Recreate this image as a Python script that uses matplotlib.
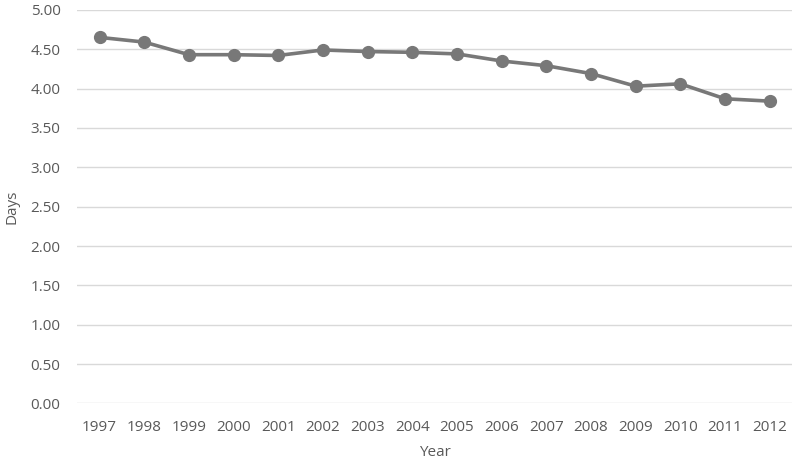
import matplotlib
matplotlib.use('Agg')
import matplotlib.pyplot as plt

years = ['1997', '1998', '1999', '2000', '2001', '2002', '2003', '2004',
         '2005', '2006', '2007', '2008', '2009', '2010', '2011', '2012']
days = [4.65, 4.59, 4.43, 4.43, 4.42, 4.49, 4.47, 4.46,
        4.44, 4.35, 4.29, 4.19, 4.03, 4.06, 3.87, 3.84]
yticks = [0, 0.5, 1, 1.5, 2, 2.5, 3, 3.5, 4, 4.5, 5]

plt.rcParams['font.family'] = ['Open Sans', 'DejaVu Sans']
text_col = '#595959'

fig = plt.figure(figsize=(7.96, 4.67), dpi=100)
ax = fig.add_axes([0.097, 0.136, 0.898, 0.843])

x = list(range(len(years)))
ax.plot(x, days, color='#787878', linewidth=2.6, marker='o', markersize=8.5, zorder=3)

ax.set_xlim(-0.5, len(years) - 0.5)
ax.set_ylim(0, 5)
ax.set_yticks(yticks)
ax.set_yticklabels(['%.2f' % v for v in yticks])
ax.set_xticks(x)
ax.set_xticklabels(years)
ax.grid(axis='y', color='#d9d9d9', linewidth=1)
ax.set_axisbelow(True)
for s in ax.spines.values():
    s.set_visible(False)
ax.tick_params(length=0, labelsize=11, colors=text_col)
ax.tick_params(axis='x', pad=12)
ax.tick_params(axis='y', pad=12)
ax.set_xlabel('Year', fontsize=11, color=text_col, labelpad=7)
ax.set_ylabel('Days', fontsize=11, color=text_col, labelpad=8)

fig.savefig('out.png', dpi=100)
